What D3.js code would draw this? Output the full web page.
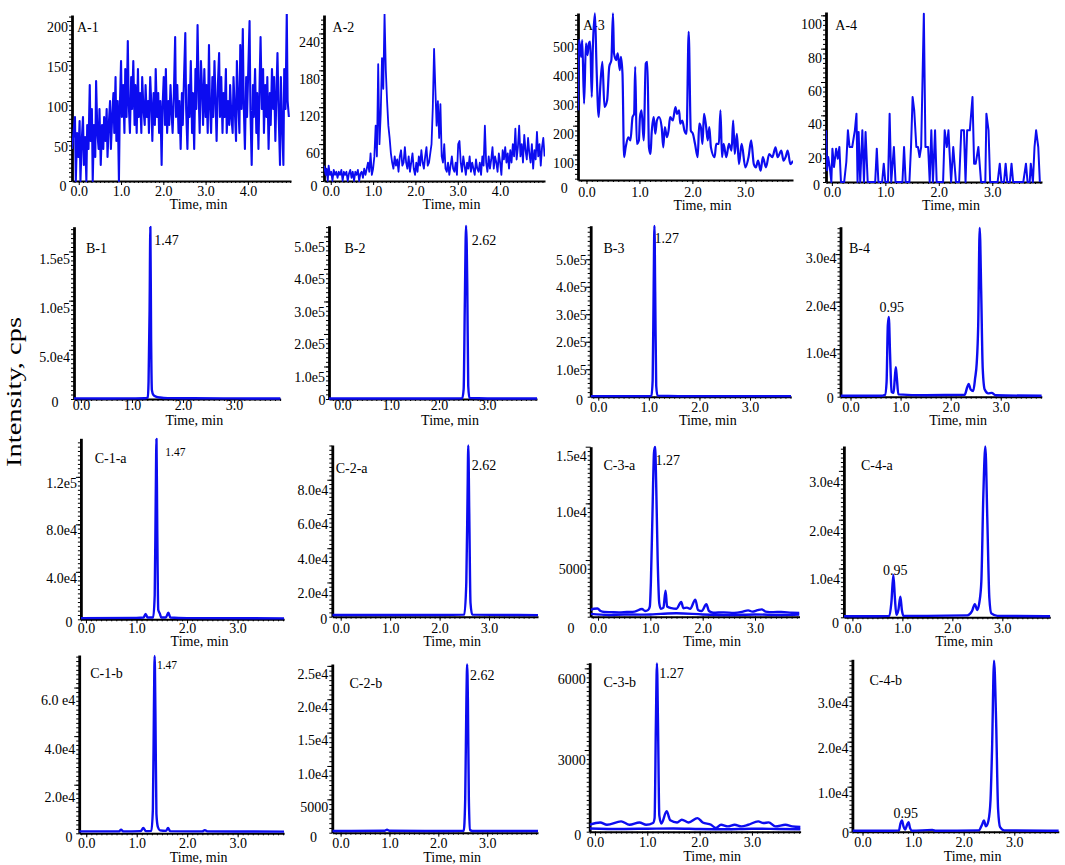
<!DOCTYPE html>
<html>
<head>
<meta charset="utf-8">
<script src="https://cdn.jsdelivr.net/npm/d3@7/dist/d3.min.js"></script>
<style>
  body { margin: 0; background: #fff; }
  text { font-family: "Liberation Serif", "Times New Roman", Times, serif; }
</style>
</head>
<body>
<svg id="fig" width="1065" height="865"></svg>
<script>
'use strict';

//Data. Each trace is a list of [time (min), intensity (cps)].

// Row A - blank samples (noise)
var traceA1 = [[-0.16,40],[-0.09,80],[-0.07,0],[-0.04,60],[-0.01,30],[0.02,75],[0.04,0],[0.07,50],[0.10,80],[0.12,20],[0.15,55],[0.18,0],[0.20,70],[0.23,40],[0.26,120],[0.28,50],[0.31,90],[0.33,0],[0.36,70],[0.39,30],[0.41,125],[0.44,60],[0.47,40],[0.49,90],[0.52,20],[0.55,70],[0.58,40],[0.60,80],[0.63,50],[0.66,90],[0.68,30],[0.71,70],[0.74,100],[0.76,40],[0.79,80],[0.82,110],[0.84,60],[0.87,130],[0.89,50],[0.92,100],[0.95,0],[0.97,90],
  [1.00,150],[1.02,80],[1.05,120],[1.08,60],[1.10,140],[1.13,80],[1.16,175],[1.18,100],[1.21,60],[1.24,130],[1.26,90],[1.29,150],[1.32,70],[1.34,120],[1.37,60],[1.40,140],[1.42,80],[1.45,110],[1.48,60],[1.50,130],[1.53,90],[1.56,70],[1.58,120],[1.61,80],[1.64,100],[1.66,60],[1.69,130],[1.72,90],[1.74,50],[1.77,110],[1.80,70],[1.82,140],[1.85,80],[1.88,110],[1.90,60],[1.93,100],[1.96,20],[1.98,90],
  [2.01,130],[2.04,70],[2.06,140],[2.09,60],[2.12,100],[2.14,70],[2.17,120],[2.20,80],[2.22,60],[2.25,110],[2.28,180],[2.30,80],[2.33,120],[2.36,60],[2.38,100],[2.41,40],[2.44,110],[2.46,70],[2.49,130],[2.52,185],[2.54,90],[2.57,40],[2.60,120],[2.62,80],[2.65,150],[2.68,60],[2.70,110],[2.73,40],[2.76,140],[2.78,90],[2.81,195],[2.84,100],[2.86,60],[2.89,150],[2.92,110],[2.94,70],[2.97,140],
  [3.00,80],[3.02,120],[3.05,60],[3.08,170],[3.10,100],[3.13,60],[3.16,130],[3.18,80],[3.21,150],[3.24,90],[3.26,50],[3.29,120],[3.32,160],[3.34,80],[3.37,130],[3.40,60],[3.42,110],[3.45,80],[3.48,140],[3.50,60],[3.53,100],[3.56,70],[3.58,120],[3.61,80],[3.64,60],[3.66,130],[3.69,90],[3.72,50],[3.74,150],[3.77,100],[3.80,60],[3.82,170],[3.85,90],[3.88,190],[3.90,100],[3.93,40],[3.96,130],[3.98,80],
  [4.01,140],[4.04,200],[4.06,90],[4.09,20],[4.12,120],[4.14,80],[4.17,140],[4.20,60],[4.22,110],[4.25,40],[4.28,130],[4.30,180],[4.33,90],[4.36,140],[4.38,60],[4.41,120],[4.44,80],[4.46,130],[4.49,40],[4.52,110],[4.54,70],[4.57,140],[4.60,90],[4.62,130],[4.65,50],[4.68,120],[4.70,160],[4.73,80],[4.76,20],[4.78,130],[4.81,70],[4.84,20],[4.86,140],[4.89,90],[4.92,210],[4.94,100],[4.97,80]];

var traceA2 = [[-0.16,25],[-0.12,10],[-0.10,20],[-0.07,0],[-0.05,25],[-0.02,10],[0.01,15],[0.04,0],[0.07,18],[0.10,10],[0.13,15],[0.16,5],[0.19,15],[0.22,10],[0.25,18],[0.28,0],[0.31,15],[0.34,10],[0.37,15],[0.40,0],[0.43,12],[0.46,18],[0.49,5],[0.52,15],[0.55,0],[0.58,15],[0.61,10],[0.64,18],[0.67,0],[0.70,12],[0.73,15],[0.76,5],[0.79,20],[0.82,10],[0.85,20],[0.88,30],[0.91,15],[0.94,45],[0.97,10],
  [1.00,20],[1.03,40],[1.06,90],[1.09,40],[1.12,190],[1.15,60],[1.18,110],[1.21,200],[1.24,150],[1.27,272],[1.30,180],[1.33,130],[1.36,90],[1.39,70],[1.42,45],[1.45,30],[1.48,20],[1.51,40],[1.54,25],[1.57,35],[1.60,15],[1.63,40],[1.66,50],[1.69,25],[1.72,30],[1.75,55],[1.78,30],[1.81,20],[1.84,40],[1.87,15],[1.90,30],[1.93,45],[1.96,20],[1.99,10],
  [2.02,30],[2.05,15],[2.08,40],[2.11,25],[2.14,50],[2.17,30],[2.20,20],[2.23,40],[2.26,55],[2.29,25],[2.32,30],[2.35,45],[2.38,60],[2.41,120],[2.44,215],[2.47,150],[2.50,90],[2.53,130],[2.56,70],[2.59,125],[2.62,40],[2.65,30],[2.68,60],[2.71,20],[2.74,15],[2.77,30],[2.80,10],[2.83,25],[2.86,40],[2.89,20],[2.92,15],[2.95,30],[2.98,10],
  [3.01,60],[3.04,65],[3.07,30],[3.10,15],[3.13,40],[3.16,25],[3.19,10],[3.22,30],[3.25,20],[3.28,40],[3.31,15],[3.34,30],[3.37,20],[3.40,10],[3.43,35],[3.46,20],[3.49,15],[3.52,30],[3.55,10],[3.58,40],[3.61,25],[3.64,90],[3.67,30],[3.70,15],[3.73,40],[3.76,20],[3.79,35],[3.82,55],[3.85,20],[3.88,40],[3.91,30],[3.94,15],[3.97,45],
  [4.00,30],[4.03,10],[4.06,50],[4.09,35],[4.12,55],[4.15,30],[4.18,45],[4.21,20],[4.24,50],[4.27,30],[4.30,60],[4.33,40],[4.36,85],[4.39,35],[4.42,55],[4.45,90],[4.48,40],[4.51,60],[4.54,30],[4.57,75],[4.60,50],[4.63,35],[4.66,70],[4.69,45],[4.72,30],[4.75,60],[4.78,20],[4.81,50],[4.84,35],[4.87,80],[4.90,40],[4.93,60],[4.96,25],[4.99,55],[5.02,70],[5.05,40]];

var traceA3 = [[-0.16,253],[-0.14,496],[-0.10,438],[-0.08,496],[-0.045,276],[-0.01,485],[0.02,444],[0.045,485],[0.07,491],[0.10,299],[0.12,467],[0.16,589],[0.19,404],[0.23,230],[0.26,334],[0.30,421],[0.34,265],[0.39,288],[0.43,404],[0.47,427],[0.50,589],[0.52,450],[0.56,427],[0.59,450],[0.63,392],[0.65,438],[0.68,380],[0.71,91],[0.74,125],[0.79,160],[0.83,149],[0.87,230],[0.90,241],[0.92,404],[0.95,137],[0.99,149],
  [1.01,230],[1.04,253],[1.08,149],[1.12,415],[1.15,421],[1.18,125],[1.21,102],[1.23,172],[1.27,230],[1.30,172],[1.33,218],[1.37,230],[1.42,195],[1.45,125],[1.48,195],[1.52,160],[1.55,183],[1.58,230],[1.63,218],[1.68,264],[1.71,241],[1.75,253],[1.77,207],[1.81,218],[1.85,183],[1.89,172],[1.93,525],[1.97,183],
  [2.01,172],[2.05,137],[2.10,91],[2.13,207],[2.16,195],[2.19,137],[2.22,241],[2.26,195],[2.29,149],[2.32,195],[2.35,125],[2.42,91],[2.45,137],[2.50,137],[2.53,253],[2.56,91],[2.59,137],[2.64,91],[2.69,137],[2.74,114],[2.77,218],[2.80,102],[2.84,172],[2.88,67],[2.93,137],
  [3.00,56],[3.06,91],[3.11,149],[3.16,67],[3.20,56],[3.24,79],[3.29,44],[3.33,91],[3.39,56],[3.45,102],[3.51,91],[3.57,125],[3.61,91],[3.68,114],[3.72,79],[3.76,91],[3.80,114],[3.85,67],[3.90,79]];

var traceA4 = [[-0.11,31],[-0.09,7],[-0.07,15],[-0.04,9],[-0.01,0],[0.01,20],[0.04,9],[0.08,20],[0.11,14],[0.14,21],[0.17,0],[0.23,0],[0.27,12],[0.30,31],[0.33,21],[0.38,21],[0.43,31],[0.46,41],[0.48,0],[0.50,30],[0.53,0],[0.57,31],[0.60,0],[0.63,30],[0.67,0],[0.81,0],[0.84,20],[0.87,0],[0.94,0],[0.97,11],
  [1.00,0],[1.05,0],[1.08,41],[1.11,0],[1.16,21],[1.19,0],[1.32,0],[1.35,21],[1.38,0],[1.45,0],[1.48,21],[1.51,51],[1.54,43],[1.58,21],[1.61,21],[1.64,15],[1.67,21],[1.72,101],[1.75,21],[1.80,21],[1.83,0],[1.86,31],[1.89,0],[1.93,31],[1.96,0],
  [2.08,0],[2.11,31],[2.15,21],[2.18,31],[2.23,0],[2.27,21],[2.32,0],[2.38,0],[2.42,31],[2.47,31],[2.50,0],[2.53,31],[2.58,31],[2.63,51],[2.66,11],[2.69,11],[2.74,21],[2.79,0],[2.87,0],[2.89,41],[2.93,31],[2.96,0],
  [3.10,0],[3.14,11],[3.17,0],[3.22,0],[3.25,11],[3.28,0],[3.33,0],[3.36,11],[3.39,0],[3.58,0],[3.63,11],[3.66,0],[3.70,0],[3.72,11],[3.76,0],[3.79,21],[3.82,31],[3.86,21],[3.89,0]];

// Row B - standards
var traceB1 = [[-0.14,600],[0.5,500],[1.0,600],[1.25,700],[1.31,1500],[1.325,18000],[1.345,90000],[1.36,175000],[1.375,60000],[1.39,9000],[1.42,4000],[1.47,2500],[1.55,1500],[1.7,900],[2.2,700],[3.0,600],[3.91,500]];
var traceB2 = [[-0.28,1500],[1.0,1500],[2.0,1500],[2.48,1800],[2.51,30000],[2.535,300000],[2.56,533000],[2.585,350000],[2.605,40000],[2.63,3000],[3.0,1500],[4.03,1500]];
var traceB3 = [[-0.15,2000],[1.0,2000],[1.05,3000],[1.075,60000],[1.095,400000],[1.11,622000],[1.125,380000],[1.145,40000],[1.17,4000],[2.0,2000],[3.81,2000]];
var traceB4 = [[-0.2,200],[0.6,200],[0.69,400],[0.72,3000],[0.745,15000],[0.765,16800],[0.79,9000],[0.82,1000],[0.86,800],[0.885,4000],[0.905,6200],[0.925,4000],[0.955,500],[1.5,300],[2.28,400],[2.33,2000],[2.36,2700],[2.40,1500],[2.45,1200],[2.49,4000],[2.52,7000],[2.55,15000],[2.58,35500],[2.61,22000],[2.64,6000],[2.68,1500],[2.75,700],[2.82,800],[2.9,300],[3.82,200]];

// Row C-a - sample a
var traceC1a = [[-0.1,1000],[1.0,1200],[1.14,1500],[1.18,4500],[1.22,1500],[1.33,1500],[1.36,20000],[1.38,100000],[1.395,152000],[1.41,80000],[1.43,8000],[1.46,5000],[1.49,1500],[1.58,1500],[1.63,5500],[1.67,1500],[2.0,1000],[3.92,800]];
var traceC2a = [[-0.17,1000],[2.0,1000],[2.50,1200],[2.54,20000],[2.565,70000],[2.58,100000],[2.60,60000],[2.625,8000],[2.66,1200],[3.99,900]];
var traceC3a = [[-0.14,600],[-0.08,700],[-0.01,720],[0.05,500],[0.12,420],[0.25,400],[0.4,380],[0.55,420],[0.7,450],[0.84,680],[0.9,500],[0.96,600],[0.99,900],[1.01,3000],[1.04,9000],[1.07,14500],[1.09,15000],[1.11,12000],[1.14,5000],[1.17,1200],[1.2,700],[1.25,800],[1.29,2300],[1.32,900],[1.4,750],[1.5,700],[1.59,1300],[1.63,750],[1.7,800],[1.76,700],[1.86,1500],[1.91,600],[1.98,500],[2.07,1100],[2.12,500],[2.2,350],[2.4,380],[2.6,330],[2.75,420],[2.87,560],[2.95,450],[3.05,580],[3.13,650],[3.2,450],[3.35,400],[3.5,420],[3.7,350],[3.85,330]];
var baseC3a = [[-0.14,250],[0.2,150],[0.5,200],[0.8,180],[1.0,200],[1.2,250],[1.5,300],[2.0,200],[2.5,150],[3.0,200],[3.5,150],[3.85,180]];
var traceC4a = [[-0.17,200],[0.5,200],[0.74,300],[0.78,3000],[0.82,8700],[0.85,4000],[0.88,500],[0.92,1500],[0.96,4200],[0.99,1500],[1.02,300],[1.5,300],[2.3,400],[2.39,1200],[2.45,2700],[2.5,1500],[2.54,3000],[2.58,7300],[2.62,25000],[2.66,35000],[2.70,20000],[2.74,4000],[2.78,800],[2.9,300],[3.96,200]];

// Row C-b - sample b
var traceC1b = [[-0.14,800],[0.65,800],[0.69,1500],[0.73,800],[1.08,900],[1.13,2200],[1.18,900],[1.29,1000],[1.32,10000],[1.34,50000],[1.355,73000],[1.37,50000],[1.39,8000],[1.42,2500],[1.46,1200],[1.58,1000],[1.62,2200],[1.66,900],[2.3,800],[2.35,1300],[2.4,800],[3.92,700]];
var traceC2b = [[-0.17,250],[0.9,300],[0.95,450],[1.0,300],[2.0,250],[2.52,300],[2.55,5000],[2.575,20000],[2.59,25200],[2.605,20000],[2.625,5000],[2.65,400],[2.7,250],[4.04,250]];
var traceC3b = [[-0.1,256],[0.1,340],[0.23,256],[0.5,380],[0.66,256],[0.85,340],[0.98,256],[1.11,320],[1.14,500],[1.165,4000],[1.185,6180],[1.205,4000],[1.23,600],[1.27,300],[1.37,750],[1.44,420],[1.57,340],[1.66,440],[1.79,340],[1.96,500],[2.06,340],[2.22,256],[2.31,134],[2.41,256],[2.54,195],[2.67,256],[2.80,195],[2.93,256],[3.12,380],[3.22,317],[3.32,342],[3.45,195],[3.64,256],[3.77,195],[3.93,171]];
var baseC3b = [[-0.1,120],[0.5,100],[1.0,110],[1.5,120],[2.0,100],[2.5,90],[3.0,110],[3.5,100],[3.93,90]];
var traceC4b = [[-0.2,200],[0.6,200],[0.72,300],[0.75,1800],[0.78,2500],[0.81,1200],[0.845,500],[0.88,1500],[0.91,2100],[0.94,800],[0.98,200],[1.38,400],[1.45,200],[2.3,300],[2.36,1500],[2.40,2500],[2.44,1200],[2.49,2500],[2.53,7000],[2.56,18000],[2.60,38000],[2.64,25000],[2.68,5000],[2.72,1000],[2.8,300],[3.88,200]];

// Tick values and labels
var timeTicks4 = [0, 1, 2, 3, 4];
var timeTicks3 = [0, 1, 2, 3];

var yTicksA1 = [50, 100, 150, 200],             yLabelsA1 = ['50', '100', '150', '200'];
var yTicksA2 = [60, 120, 180, 240],             yLabelsA2 = ['60', '120', '180', '240'];
var yTicksA3 = [100, 200, 300, 400, 500],       yLabelsA3 = ['100', '200', '300', '400', '500'];
var yTicksA4 = [20, 40, 60, 80, 100],           yLabelsA4 = ['20', '40', '60', '80', '100'];
var yTicksB1 = [5e4, 1e5, 1.5e5],               yLabelsB1 = ['5.0e4', '1.0e5', '1.5e5'];
var yTicksB2 = [1e5, 2e5, 3e5, 4e5, 5e5],       yLabelsB2 = ['1.0e5', '2.0e5', '3.0e5', '4.0e5', '5.0e5'];
var yTicksB3 = [1e5, 2e5, 3e5, 4e5, 5e5],       yLabelsB3 = ['1.0e5', '2.0e5', '3.0e5', '4.0e5', '5.0e5'];
var yTicksB4 = [1e4, 2e4, 3e4],                 yLabelsB4 = ['1.0e4', '2.0e4', '3.0e4'];
var yTicksC1a = [4e4, 8e4, 1.2e5],              yLabelsC1a = ['4.0e4', '8.0e4', '1.2e5'];
var yTicksC2a = [2e4, 4e4, 6e4, 8e4],           yLabelsC2a = ['2.0e4', '4.0e4', '6.0e4', '8.0e4'];
var yTicksC3a = [5000, 1e4, 1.5e4],             yLabelsC3a = ['5000', '1.0e4', '1.5e4'];
var yTicksC4a = [1e4, 2e4, 3e4],                yLabelsC4a = ['1.0e4', '2.0e4', '3.0e4'];
var yTicksC1b = [2e4, 4e4, 6e4],                yLabelsC1b = ['2.0e4', '4.0e4', '6.0 e4'];
var yTicksC2b = [5000, 1e4, 1.5e4, 2e4, 2.5e4], yLabelsC2b = ['5000', '1.0e4', '1.5e4', '2.0e4', '2.5e4'];
var yTicksC3b = [3000, 6000],                   yLabelsC3b = ['3000', '6000'];
var yTicksC4b = [1e4, 2e4, 3e4],                yLabelsC4b = ['1.0e4', '2.0e4', '3.0e4'];

// Retention time labels, placed in data units (text start time, baseline intensity)
var peakLabels = [
  { panel: 'B-1',   text: '1.47', t: 1.436, v: 1.567e5 },
  { panel: 'B-2',   text: '2.62', t: 2.68,  v: 4.74e5 },
  { panel: 'B-3',   text: '1.27', t: 1.11,  v: 5.58e5 },
  { panel: 'B-4',   text: '0.95', t: 0.58,  v: 1.79e4 },
  { panel: 'C-1-a', text: '1.47', t: 1.57,  v: 1.38e5, small: true },
  { panel: 'C-2-a', text: '2.62', t: 2.65,  v: 8.58e4 },
  { panel: 'C-3-a', text: '1.27', t: 1.10,  v: 1.34e4 },
  { panel: 'C-4-a', text: '0.95', t: 0.61,  v: 8700 },
  { panel: 'C-1-b', text: '1.47', t: 1.40,  v: 6.77e4, small: true },
  { panel: 'C-2-b', text: '2.62', t: 2.65,  v: 2.29e4 },
  { panel: 'C-3-b', text: '1.27', t: 1.23,  v: 5637 },
  { panel: 'C-4-b', text: '0.95', t: 0.61,  v: 3000 }
];

//Panel layout ==================================
// box: [left, top, right, bottom] of the axes in px
// ly: shift of y tick labels below their tick, zero: corner "0" [px left of axis, px below],
// tag: panel name [dx, dy] from top-left, xdy/tdy: baselines of x labels and "Time, min" below axis
var panels = [
  { name: 'A-1', box: [72, 15, 291, 181],   xDomain: [-0.16, 5.02], yDomain: [0, 207.5], traces: [traceA1], yTicks: yTicksA1, yLabels: yLabelsA1, xTicks: timeTicks4, ly: 6,   zero: [9, 5],    tag: [5, 17],     xdy: 15, tdy: 28, smooth: false, lw: 2.1 },
  { name: 'A-2', box: [324, 15, 545, 181],  xDomain: [-0.16, 5.06], yDomain: [0, 270],   traces: [traceA2], yTicks: yTicksA2, yLabels: yLabelsA2, xTicks: timeTicks4, ly: 8,   zero: [10, 5],   tag: [8.6, 17],   xdy: 15, tdy: 28, smooth: false, lw: 1.8 },
  { name: 'A-3', box: [578, 13, 793, 180],  xDomain: [-0.16, 3.9],  yDomain: [12, 590],  traces: [traceA3], yTicks: yTicksA3, yLabels: yLabelsA3, xTicks: timeTicks3, ly: 8,   zero: [13.7, 8], tag: [5, 17],     xdy: 17, tdy: 30, smooth: true,  lw: 2.2 },
  { name: 'A-4', box: [826, 12, 1042, 182], xDomain: [-0.11, 3.93], yDomain: [0, 102],   traces: [traceA4], yTicks: yTicksA4, yLabels: yLabelsA4, xTicks: timeTicks3, ly: 8.5, zero: [9.5, 3],  tag: [9.3, 18],   xdy: 15, tdy: 28, smooth: false, lw: 2 },

  { name: 'B-1', box: [74, 226.7, 280.6, 399],    xDomain: [-0.135, 3.91], yDomain: [0, 1.752e5], traces: [traceB1], yTicks: yTicksB1, yLabels: yLabelsB1, xTicks: timeTicks3, ly: 7,   zero: [19, 2.7],   tag: [12, 26.5],   xdy: 11, tdy: 26,   smooth: true, lw: 2.4 },
  { name: 'B-2', box: [329, 225.7, 537, 399],     xDomain: [-0.28, 4.03],  yDomain: [0, 5.33e5],  traces: [traceB2], yTicks: yTicksB2, yLabels: yLabelsB2, xTicks: timeTicks3, ly: 10,  zero: [7, 1],      tag: [15.5, 27.3], xdy: 11, tdy: 26,   smooth: true, lw: 2.4 },
  { name: 'B-3', box: [590.7, 225.7, 791, 396.7], xDomain: [-0.15, 3.81],  yDomain: [0, 6.22e5],  traces: [traceB3], yTicks: yTicksB3, yLabels: yLabelsB3, xTicks: timeTicks3, ly: 0,   zero: [11.2, 3.3], tag: [12.7, 27.3], xdy: 15, tdy: 28.3, smooth: true, lw: 2.4 },
  { name: 'B-4', box: [840.5, 226.7, 1041.8, 396.7], xDomain: [-0.2, 3.82], yDomain: [0, 3.577e4], traces: [traceB4], yTicks: yTicksB4, yLabels: yLabelsB4, xTicks: timeTicks3, ly: 3.5, zero: [10.3, 1.7], tag: [8.5, 26.3],  xdy: 15, tdy: 28.3, smooth: true, lw: 2.4 },

  { name: 'C-1-a', box: [80.9, 438.3, 284.1, 619.3],  xDomain: [-0.1, 3.92],  yDomain: [0, 1.525e5], traces: [traceC1a], yTicks: yTicksC1a, yLabels: yLabelsC1a, xTicks: timeTicks3, ly: 5.5,  zero: [12, 2.4],   tag: [13.8, 24.7], xdy: 13.7, tdy: 26.7, smooth: true, lw: 2.4 },
  { name: 'C-2-a', box: [332.3, 445, 538, 616.7],     xDomain: [-0.17, 3.99], yDomain: [0, 1.003e5], traces: [traceC2a], yTicks: yTicksC2a, yLabels: yLabelsC2a, xTicks: timeTicks3, ly: 10,   zero: [8.6, 2.6],  tag: [3.4, 28],    xdy: 16.3, tdy: 29.3, smooth: true, lw: 2.4 },
  { name: 'C-3-a', box: [590.7, 446.7, 799.5, 616.7], xDomain: [-0.14, 3.85], yDomain: [0, 1.5e4],   traces: [baseC3a, traceC3a], yTicks: yTicksC3a, yLabels: yLabelsC3a, xTicks: timeTicks3, ly: 8.5, zero: [19.8, 11.6], tag: [12.7, 23.3], xdy: 16.3, tdy: 29.3, smooth: true, lw: 2.4 },
  { name: 'C-4-a', box: [843.9, 446, 1050.3, 617.3],  xDomain: [-0.17, 3.96], yDomain: [0, 3.51e4],  traces: [traceC4a], yTicks: yTicksC4a, yLabels: yLabelsC4a, xTicks: timeTicks3, ly: 10.5, zero: [8.5, 6],    tag: [17, 24],     xdy: 15.7, tdy: 28.7, smooth: true, lw: 2.4 },

  { name: 'C-1-b', box: [79.2, 655, 284.1, 833.3],    xDomain: [-0.14, 3.92], yDomain: [0, 7.34e4],  traces: [traceC1b], yTicks: yTicksC1b, yLabels: yLabelsC1b, xTicks: timeTicks3, ly: 12,   zero: [10.3, 3.4], tag: [11, 23],     xdy: 15,   tdy: 28.5, smooth: true, lw: 2.4 },
  { name: 'C-2-b', box: [332.3, 664, 538, 832.7],     xDomain: [-0.17, 4.04], yDomain: [0, 2.528e4], traces: [traceC2b], yTicks: yTicksC2b, yLabels: yLabelsC2b, xTicks: timeTicks3, ly: 7.5,  zero: [18.9, 4],   tag: [17.2, 24],   xdy: 15.5, tdy: 29,   smooth: true, lw: 2.4 },
  { name: 'C-3-b', box: [589.7, 662.7, 800.6, 831.7], xDomain: [-0.1, 3.93],  yDomain: [0, 6208],    traces: [baseC3b, traceC3b], yTicks: yTicksC3b, yLabels: yLabelsC3b, xTicks: timeTicks3, ly: 10, zero: [11.9, 3.3], tag: [13.7, 24], xdy: 15, tdy: 29.5, smooth: true, lw: 2.4 },
  { name: 'C-4-b', box: [852.4, 659.3, 1058.8, 831.7], xDomain: [-0.2, 3.88], yDomain: [0, 3.83e4],  traces: [traceC4b], yTicks: yTicksC4b, yLabels: yLabelsC4b, xTicks: timeTicks3, ly: 6,    zero: [6.8, 1.6],  tag: [17, 25.7],   xdy: 15,   tdy: 29.5, smooth: true, lw: 2.4 }
];

var blue = '#0c0cf0';
var ink = '#000';
var fontFamily = '"Liberation Serif", "Times New Roman", Times, serif';

var svg = d3.select('#fig');
var defs = svg.append('defs');

function drawPanel(p) {
  var L = p.box[0], T = p.box[1], R = p.box[2], B = p.box[3];
  var x = d3.scaleLinear().domain(p.xDomain).range([L, R]);
  var y = d3.scaleLinear().domain(p.yDomain).range([B, T]);
  var g = svg.append('g').attr('class', 'panel');

  // minor ticks on the y axis, about every 4.5 px
  var yStep = p.yTicks.length > 1 ? p.yTicks[1] - p.yTicks[0] : p.yTicks[0];
  var nSub = Math.max(2, Math.round((y(p.yDomain[0]) - y(p.yDomain[0] + yStep)) / 4.5));
  var ySub = yStep / nSub;
  var yMinor = d3.range(Math.ceil(p.yDomain[0] / ySub) * ySub, p.yDomain[1], ySub);
  g.append('g')
    .attr('transform', 'translate(' + L + ',0)')
    .call(d3.axisLeft(y).tickValues(yMinor).tickFormat('').tickSize(3).tickSizeOuter(0))
    .call(function (s) { s.select('.domain').remove(); s.selectAll('line').attr('stroke', ink); });

  // minor ticks on the x axis, every 0.1 min
  var xMinor = d3.range(Math.ceil(p.xDomain[0] * 10) / 10, p.xDomain[1], 0.1);
  g.append('g')
    .attr('transform', 'translate(0,' + B + ')')
    .call(d3.axisBottom(x).tickValues(xMinor).tickFormat('').tickSize(2).tickSizeOuter(0))
    .call(function (s) { s.select('.domain').remove(); s.selectAll('line').attr('stroke', ink); });

  // y axis with labels
  g.append('g')
    .attr('transform', 'translate(' + L + ',0)')
    .call(d3.axisLeft(y).tickValues(p.yTicks)
      .tickFormat(function (d, i) { return p.yLabels[i]; })
      .tickSize(5).tickSizeOuter(0))
    .call(function (s) {
      s.select('.domain').attr('stroke', ink).attr('stroke-width', 2.8);
      s.selectAll('line').attr('stroke', ink);
      s.selectAll('text')
        .attr('x', -4)
        .attr('y', p.ly)
        .attr('dy', '0.35em')
        .attr('fill', ink)
        .style('font-family', fontFamily)
        .style('font-size', '14px');
    });

  // x axis with labels
  g.append('g')
    .attr('transform', 'translate(0,' + B + ')')
    .call(d3.axisBottom(x).tickValues(p.xTicks).tickFormat(d3.format('.1f')).tickSize(4).tickSizeOuter(0))
    .call(function (s) {
      s.select('.domain').attr('stroke', ink).attr('stroke-width', 2);
      s.selectAll('line').attr('stroke', ink);
      s.selectAll('text')
        .attr('y', p.xdy)
        .attr('dy', 0)
        .attr('fill', ink)
        .style('font-family', fontFamily)
        .style('font-size', '14px');
    });

  // "0" at the corner
  g.append('text')
    .attr('x', L - p.zero[0])
    .attr('y', B + p.zero[1])
    .attr('dy', '0.35em')
    .attr('text-anchor', 'middle')
    .attr('fill', ink)
    .style('font-size', '14px')
    .text('0');

  g.append('text')
    .attr('x', (L + R) / 2 + 17)
    .attr('y', B + p.tdy)
    .attr('text-anchor', 'middle')
    .attr('fill', ink)
    .style('font-size', '14px')
    .text('Time, min');

  // panel name
  g.append('text')
    .attr('x', L + p.tag[0])
    .attr('y', T + p.tag[1])
    .attr('fill', ink)
    .style('font-size', '14px')
    .text(p.name);

  peakLabels.filter(function (d) { return d.panel === p.name; }).forEach(function (d) {
    g.append('text')
      .attr('x', x(d.t))
      .attr('y', y(d.v))
      .attr('fill', ink)
      .style('font-size', d.small ? '11.5px' : '14px')
      .text(d.text);
  });

  // traces, clipped to the plot box
  var clipId = 'clip-' + p.name;
  defs.append('clipPath').attr('id', clipId)
    .append('rect')
    .attr('x', L).attr('y', T - 1)
    .attr('width', R - L).attr('height', B - T + 3);

  var line = d3.line()
    .x(function (d) { return x(d[0]); })
    .y(function (d) { return y(d[1]); })
    .curve(p.smooth ? d3.curveMonotoneX : d3.curveLinear);

  p.traces.forEach(function (tr) {
    g.append('path')
      .datum(tr)
      .attr('d', line)
      .attr('fill', 'none')
      .attr('stroke', blue)
      .attr('stroke-width', p.lw)
      .attr('stroke-linejoin', 'round')
      .attr('clip-path', 'url(#' + clipId + ')');
  });
}

panels.forEach(drawPanel);

// shared y title
svg.append('text')
  .attr('transform', 'translate(21,392) rotate(-90)')
  .attr('text-anchor', 'middle')
  .attr('fill', ink)
  .attr('textLength', 150)
  .attr('lengthAdjust', 'spacingAndGlyphs')
  .style('font-size', '22px')
  .text('Intensity, cps');
</script>
</body>
</html>
